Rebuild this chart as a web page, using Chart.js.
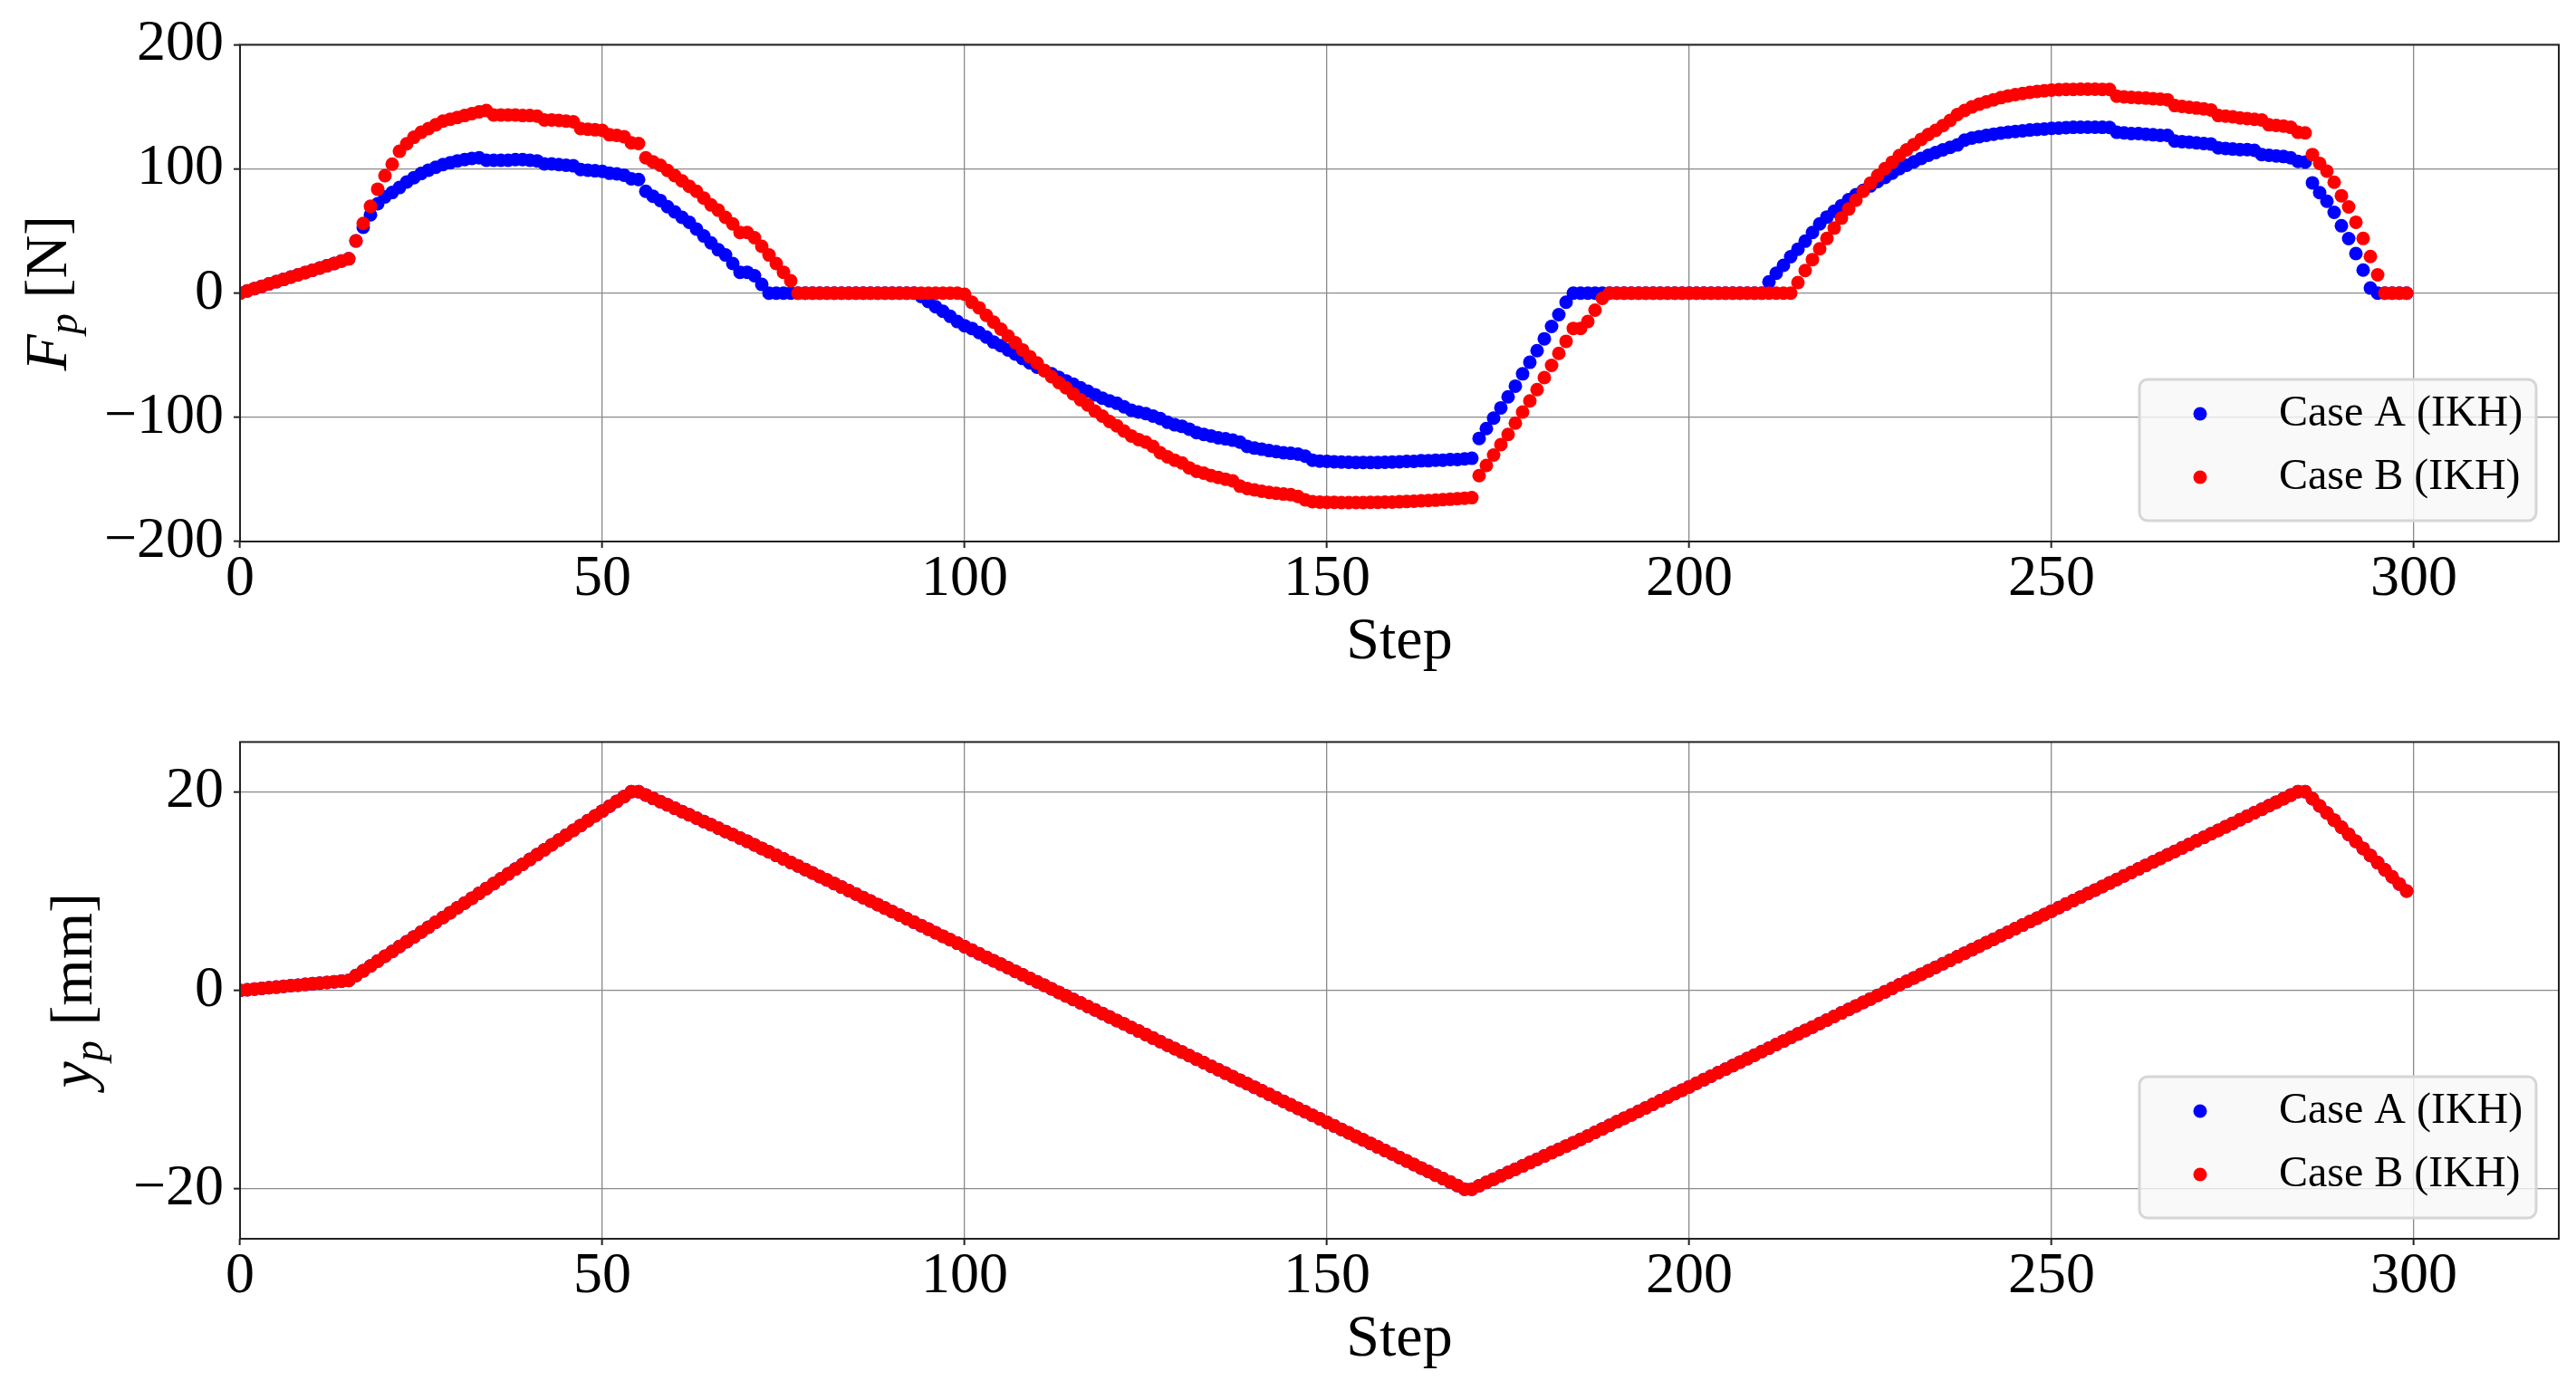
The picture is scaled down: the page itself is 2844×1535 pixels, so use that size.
<!DOCTYPE html>
<html>
<head>
<meta charset="utf-8">
<script src="https://cdn.jsdelivr.net/npm/chart.js@4.4.1/dist/chart.umd.min.js"></script>
<style>
  body { margin: 0; background: #fff; }
  #wrap { position: relative; width: 2844px; height: 1535px; }
  canvas { position: absolute; left: 0; }
</style>
</head>
<body>
<div id="wrap">
  <canvas id="force" width="2844" height="770" style="top:0"></canvas>
  <canvas id="pos" width="2844" height="765" style="top:770px"></canvas>
</div>
<script>
// ── data ─────────────────────────────────────────────────────────────────────

const legendLabels = ["Case A (IKH)", "Case B (IKH)"]

const steps = [
  0, 1, 2, 3, 4, 5, 6, 7, 8, 9, 10, 11, 12, 13, 14, 15, 16, 17, 18, 19,
  20, 21, 22, 23, 24, 25, 26, 27, 28, 29, 30, 31, 32, 33, 34, 35, 36, 37, 38, 39,
  40, 41, 42, 43, 44, 45, 46, 47, 48, 49, 50, 51, 52, 53, 54, 55, 56, 57, 58, 59,
  60, 61, 62, 63, 64, 65, 66, 67, 68, 69, 70, 71, 72, 73, 74, 75, 76, 77, 78, 79,
  80, 81, 82, 83, 84, 85, 86, 87, 88, 89, 90, 91, 92, 93, 94, 95, 96, 97, 98, 99,
  100, 101, 102, 103, 104, 105, 106, 107, 108, 109, 110, 111, 112, 113, 114, 115, 116, 117, 118, 119,
  120, 121, 122, 123, 124, 125, 126, 127, 128, 129, 130, 131, 132, 133, 134, 135, 136, 137, 138, 139,
  140, 141, 142, 143, 144, 145, 146, 147, 148, 149, 150, 151, 152, 153, 154, 155, 156, 157, 158, 159,
  160, 161, 162, 163, 164, 165, 166, 167, 168, 169, 170, 171, 172, 173, 174, 175, 176, 177, 178, 179,
  180, 181, 182, 183, 184, 185, 186, 187, 188, 189, 190, 191, 192, 193, 194, 195, 196, 197, 198, 199,
  200, 201, 202, 203, 204, 205, 206, 207, 208, 209, 210, 211, 212, 213, 214, 215, 216, 217, 218, 219,
  220, 221, 222, 223, 224, 225, 226, 227, 228, 229, 230, 231, 232, 233, 234, 235, 236, 237, 238, 239,
  240, 241, 242, 243, 244, 245, 246, 247, 248, 249, 250, 251, 252, 253, 254, 255, 256, 257, 258, 259,
  260, 261, 262, 263, 264, 265, 266, 267, 268, 269, 270, 271, 272, 273, 274, 275, 276, 277, 278, 279,
  280, 281, 282, 283, 284, 285, 286, 287, 288, 289, 290, 291, 292, 293, 294, 295, 296, 297, 298, 299
]

// F_p [N], Case A
const forceA = [
  0, 1.8, 3.7, 5.5, 7.4, 9.2, 11, 12.9, 14.7, 16.6, 18.4, 20.2, 22.1, 23.9, 25.8, 27.6,
  42, 53, 63, 72, 77.5, 81, 85, 89.5, 93, 96.3, 99, 101.3, 103.5, 105, 106.5, 107.5, 108.5, 109, 107, 107,
  107, 107, 107.5, 107.5, 107, 106.5, 104, 104, 103.5, 103, 102.5, 99.5, 99, 98.5, 98, 96.5, 96, 95, 92, 91.5,
  82, 78, 74.6, 69.6, 65.4, 61, 57, 51.6, 46, 40.4, 34.9, 30.7, 23.8, 16.8, 16.8, 14, 7,
  0, 0, 0, 0, 0, 0, 0, 0, 0, 0, 0, 0, 0, 0, 0, 0, 0, 0, 0, 0, 0,
  -2.7, -6.8, -11, -14.6, -18.7, -22.9, -26.2, -28.4, -31.8, -35.4, -39.5, -42.3, -45.7, -49, -52.6, -56.2, -59.6, -62.3, -65, -67.9,
  -70.7, -73.4, -76.2, -79, -81.8, -84.6, -86.8, -88.7, -91.5, -94.3, -95.7, -97, -99, -101, -104, -106, -107.3, -109.5, -112.3, -113.8,
  -115, -116.5, -117.3, -118.4, -120, -123.4, -124.8, -125.7, -126.8, -127.6, -128.5, -129, -129.6, -131.3, -134.6, -135.2, -135.4, -135.8, -136, -136.2,
  -136.3, -136.4, -136.4, -136.3, -136.2, -136, -135.8, -135.5, -135.5, -135, -135, -134.5, -134.5, -134, -134, -133.5, -133,
  -117, -109, -100.7, -92.4, -83.5, -74.9, -65, -55.7, -46.3, -36.8, -26.8, -17.4, -7.3,
  0, 0, 0, 0, 0, 0, 0, 0, 0, 0, 0, 0, 0, 0, 0, 0, 0, 0, 0, 0, 0, 0, 0, 0, 0, 0, 0,
  9, 16, 22.4, 29.3, 35.4, 41.8, 48.8, 55.7, 61.3, 66, 70.4, 75.2, 79.3, 82.7, 86.3, 89.9, 93.2, 96.6, 100.2, 103,
  105.7, 108.5, 111, 113.2, 115.4, 117.4, 119.3, 123.2, 124.9, 126, 127.1, 128, 128.8, 129.6, 130.2, 130.7, 131.3, 131.8, 132.1, 132.7,
  132.9, 133.3, 133.5, 133.6, 133.6, 133.6, 133.5, 133.4, 129.5, 129, 128.5, 128.5, 128, 127.5, 127, 127, 122.5, 122, 121.5, 121,
  120.5, 120, 117, 116.5, 116, 115.5, 115.5, 115, 111.5, 111, 110.5, 110, 109, 106, 105.5, 88.8, 80.9, 74, 65, 54.2, 43.9, 31.9, 18.6, 4.1,
  0, 0, 0, 0, 0
]

// F_p [N], Case B
const forceB = [
  0, 1.8, 3.7, 5.5, 7.4, 9.2, 11, 12.9, 14.7, 16.6, 18.4, 20.2, 22.1, 23.9, 25.8, 27.6,
  42.1, 56.1, 69.9, 83.7, 94.6, 103.8, 114.2, 120.3, 125.5, 129.5, 132.5, 135.5, 138.5, 140, 141.5, 143, 144.5, 146, 147, 143.5,
  143.5, 143.5, 143.5, 143, 143, 142.5, 139.5, 139.5, 139, 138.5, 138, 132.5, 132, 131.5, 131, 127.5, 127, 126, 121, 120.5,
  109, 105.7, 103, 98.8, 94.6, 90.4, 86, 82, 76.6, 71, 66.8, 61, 55.7, 48.8, 48.8, 44.6, 37.7, 30.7, 23.8, 16.8, 9.9,
  0, 0, 0, 0, 0, 0, 0, 0, 0, 0, 0, 0, 0, 0, 0, 0, 0, 0, 0, 0, 0, 0, 0,
  -1, -7.4, -11.8, -17.9, -23.4, -29, -34.5, -40, -45.7, -51.2, -56.2, -62.3, -67.3, -72, -76.2, -81.2, -85.9, -90, -95, -99,
  -103.4, -106.8, -111, -115, -117.9, -120, -123.4, -128.5, -131.8, -134.6, -136.8, -140.7, -143.5, -145, -147, -148.4, -149.8, -151.2, -155.4, -157.3,
  -158.4, -159.5, -160.4, -161.2, -161.8, -162.3, -163.7, -166.5, -167.9, -168.2, -168.4, -168.5, -168.6, -168.6, -168.6, -168.6, -168.5, -168.4, -168.3, -168.2,
  -168, -167.8, -167.5, -167.2, -167, -166.7, -166.3, -166, -165.6, -165.2, -164.7,
  -147, -138.8, -130.4, -122, -113.8, -104.7, -95.7, -86.8, -77.7, -68, -58.2, -48.5, -38.8, -28.4, -28.4, -22.9, -13.7, -4.2,
  0, 0, 0, 0, 0, 0, 0, 0, 0, 0, 0, 0, 0, 0, 0, 0, 0, 0, 0, 0, 0, 0, 0, 0, 0, 0,
  8.5, 18.2, 27, 35.7, 44, 52.4, 60.4, 67.7, 74.9, 82, 88.5, 94.6, 100.2, 105.4, 110.7, 115.4, 119.6, 123.8, 127.7, 131,
  134.9, 139, 143.8, 147.1, 149.9, 152.1, 154, 155.7, 157.4, 158.8, 159.9, 160.7, 161.6, 162.4, 162.9, 163.5, 163.8, 164, 164.1, 164.2,
  164.2, 164.2, 164.1, 164, 158.5, 158, 157.7, 157.3, 157, 156.6, 156.2, 155.7, 151, 150.3, 149.6, 149, 148.3, 147.5, 143, 142.5,
  142, 141, 140.5, 140, 139.5, 135.5, 135, 134.5, 133.5, 129.5, 129, 111.6, 104.5, 98.2, 89.3, 78.4, 69.4, 57.1, 44, 29.5, 14.7,
  0, 0, 0, 0
]

// y_p [mm] — both cases lie on the same path
const posAB = [
  0, 0.07, 0.13, 0.2, 0.27, 0.33, 0.4, 0.47, 0.53, 0.6, 0.67, 0.73, 0.8, 0.87, 0.93, 1,
  1.49, 1.97, 2.46, 2.95, 3.44, 3.92, 4.41, 4.9, 5.38, 5.87, 6.36, 6.85, 7.33, 7.82, 8.31, 8.79, 9.28, 9.77, 10.26, 10.74,
  11.23, 11.72, 12.21, 12.69, 13.18, 13.67, 14.15, 14.64, 15.13, 15.62, 16.1, 16.59, 17.08, 17.56, 18.05, 18.54, 19.03, 19.51, 20, 20,
  19.67, 19.33, 19, 18.67, 18.33, 18, 17.67, 17.33, 17, 16.67, 16.33, 16, 15.67, 15.33, 15,
  14.65, 14.29, 13.94, 13.59, 13.23, 12.88, 12.53, 12.17, 11.82, 11.46, 11.11, 10.76, 10.4, 10.05, 9.7, 9.34, 8.99, 8.64, 8.28, 7.93,
  7.58, 7.22, 6.87, 6.52, 6.16, 5.81, 5.45, 5.1, 4.75, 4.39, 4.04, 3.69, 3.33, 2.98, 2.63, 2.27, 1.92, 1.57, 1.21, 0.86,
  0.51, 0.15, -0.2, -0.56, -0.91, -1.26, -1.62, -1.97, -2.32, -2.68, -3.03, -3.38, -3.74, -4.09, -4.44, -4.8, -5.15, -5.51, -5.86, -6.21,
  -6.57, -6.92, -7.27, -7.63, -7.98, -8.33, -8.69, -9.04, -9.39, -9.75, -10.1, -10.45, -10.81, -11.16, -11.52, -11.87, -12.22, -12.58, -12.93, -13.28,
  -13.64, -13.99, -14.34, -14.7, -15.05, -15.4, -15.76, -16.11, -16.46, -16.82, -17.17, -17.53, -17.88, -18.23, -18.59, -18.94, -19.29, -19.65, -20, -20,
  -19.67, -19.33, -19, -18.67, -18.33, -18, -17.67, -17.33, -17, -16.67, -16.33, -16, -15.67, -15.33, -15,
  -14.65, -14.29, -13.94, -13.59, -13.23, -12.88, -12.53, -12.17, -11.82, -11.46, -11.11, -10.76, -10.4, -10.05, -9.7, -9.34, -8.99, -8.64, -8.28, -7.93,
  -7.58, -7.22, -6.87, -6.52, -6.16, -5.81, -5.45, -5.1, -4.75, -4.39, -4.04, -3.69, -3.33, -2.98, -2.63, -2.27, -1.92, -1.57, -1.21, -0.86,
  -0.51, -0.15, 0.2, 0.56, 0.91, 1.26, 1.62, 1.97, 2.32, 2.68, 3.03, 3.38, 3.74, 4.09, 4.44, 4.8, 5.15, 5.51, 5.86, 6.21,
  6.57, 6.92, 7.27, 7.63, 7.98, 8.33, 8.69, 9.04, 9.39, 9.75, 10.1, 10.45, 10.81, 11.16, 11.52, 11.87, 12.22, 12.58, 12.93, 13.28,
  13.64, 13.99, 14.34, 14.7, 15.05, 15.4, 15.76, 16.11, 16.46, 16.82, 17.17, 17.53, 17.88, 18.23, 18.59, 18.94, 19.29, 19.65, 20, 20,
  19.29, 18.57, 17.86, 17.14, 16.43, 15.71, 15, 14.29, 13.57, 12.86, 12.14, 11.43, 10.71, 10
]

// ── styling ─────────────────────────────────────────────────────────────────

const FONT = '"Liberation Serif", "DejaVu Serif", serif'
const INK = "#222222"
const GRID = "#8a8a8a"

const minus = v => (v < 0 ? "\u2212" + Math.abs(v) : String(v))
const points = ys => steps.map((s, i) => ({ x: s, y: ys[i] }))

// y-axis title with an italic symbol and subscript, rotated
const axisLabel = {
  id: "axisLabel",
  afterDraw(chart, args, opts) {
    const { ctx, chartArea: a } = chart
    const big = `italic 66px ${FONT}`
    const small = `italic 46px ${FONT}`
    const plain = `66px ${FONT}`
    ctx.save()
    ctx.font = big;   const w1 = ctx.measureText(opts.main).width
    ctx.font = small; const w2 = ctx.measureText(opts.sub).width
    ctx.font = plain; const w3 = ctx.measureText(opts.unit).width
    ctx.translate(opts.x, (a.top + a.bottom) / 2)
    ctx.rotate(-Math.PI / 2)
    ctx.fillStyle = "#000"
    ctx.textBaseline = "alphabetic"
    ctx.textAlign = "left"
    let x = -(w1 + w2 + w3) / 2
    ctx.font = big;   ctx.fillText(opts.main, x, 0); x += w1
    ctx.font = small; ctx.fillText(opts.sub, x, 12); x += w2
    ctx.font = plain; ctx.fillText(opts.unit, x, 0)
    ctx.restore()
  }
}

// axes frame + matplotlib-like legend box in the lower right
const frameLegend = {
  id: "frameLegend",
  afterDatasetsDraw(chart) {
    const { ctx, chartArea: a } = chart
    ctx.save()
    ctx.strokeStyle = INK
    ctx.lineWidth = 2
    ctx.strokeRect(a.left, a.top, a.right - a.left, a.bottom - a.top)

    const w = 438, h = 156, r = 9
    const x = a.right - 25 - w
    const y = a.bottom - 23 - h
    ctx.beginPath()
    ctx.moveTo(x + r, y)
    ctx.arcTo(x + w, y, x + w, y + h, r)
    ctx.arcTo(x + w, y + h, x, y + h, r)
    ctx.arcTo(x, y + h, x, y, r)
    ctx.arcTo(x, y, x + w, y, r)
    ctx.closePath()
    ctx.fillStyle = "rgba(248,248,248,0.8)"
    ctx.fill()
    ctx.strokeStyle = "#d6d6d6"
    ctx.lineWidth = 3
    ctx.stroke()

    chart.data.datasets.forEach((ds, i) => {
      const cy = y + 38 + i * 70
      ctx.beginPath()
      ctx.arc(x + 67, cy, 7.5, 0, Math.PI * 2)
      ctx.fillStyle = ds.backgroundColor
      ctx.fill()
      ctx.fillStyle = "#000"
      ctx.font = `48px ${FONT}`
      ctx.textAlign = "left"
      ctx.textBaseline = "middle"
      ctx.fillText(ds.label, x + 154, cy)
    })
    ctx.restore()
  }
}

function makeChart(el, a, b, y, label, xHeight, titlePad) {
  return new Chart(el, {
    type: "scatter",
    data: {
      datasets: [
        { label: legendLabels[0], data: points(a), backgroundColor: "#0000ff", pointRadius: 7.5, borderWidth: 0, order: 2 },
        { label: legendLabels[1], data: points(b), backgroundColor: "#ff0000", pointRadius: 7.5, borderWidth: 0, order: 1 }
      ]
    },
    options: {
      responsive: false,
      animation: false,
      events: [],
      layout: { padding: { left: 0, right: 19, top: 48, bottom: 0 } },
      plugins: {
        legend: { display: false },
        tooltip: { enabled: false },
        axisLabel: label
      },
      scales: {
        x: {
          type: "linear", min: 0, max: 320,
          ticks: { stepSize: 50, includeBounds: false, color: "#000", padding: 0, maxRotation: 0,
                   font: { family: FONT, size: 64, lineHeight: 1.1 } },
          grid: { color: GRID, lineWidth: 1.3, tickColor: INK, tickLength: 7, tickWidth: 2 },
          border: { display: false },
          title: { display: true, text: "Step", color: "#000",
                   font: { family: FONT, size: 66 }, padding: { top: 0, bottom: titlePad } },
          afterFit: s => { s.height = xHeight }
        },
        y: {
          min: y.min, max: y.max,
          ticks: { stepSize: y.step, includeBounds: false, color: "#000", padding: 11,
                   font: { family: FONT, size: 64 }, callback: minus },
          grid: { color: GRID, lineWidth: 1.3, tickColor: INK, tickLength: 7, tickWidth: 2 },
          border: { display: false },
          afterFit: s => { s.width = 265 }
        }
      }
    },
    plugins: [axisLabel, frameLegend]
  })
}

makeChart(document.getElementById("force"), forceA, forceB,
  { min: -200, max: 200, step: 100 },
  { main: "F", sub: "p", unit: " [N]", x: 73 }, 172, 21)

makeChart(document.getElementById("pos"), posAB, posAB,
  { min: -25, max: 25, step: 20 },
  { main: "y", sub: "p", unit: " [mm]", x: 101 }, 167, 16)
</script>
</body>
</html>
